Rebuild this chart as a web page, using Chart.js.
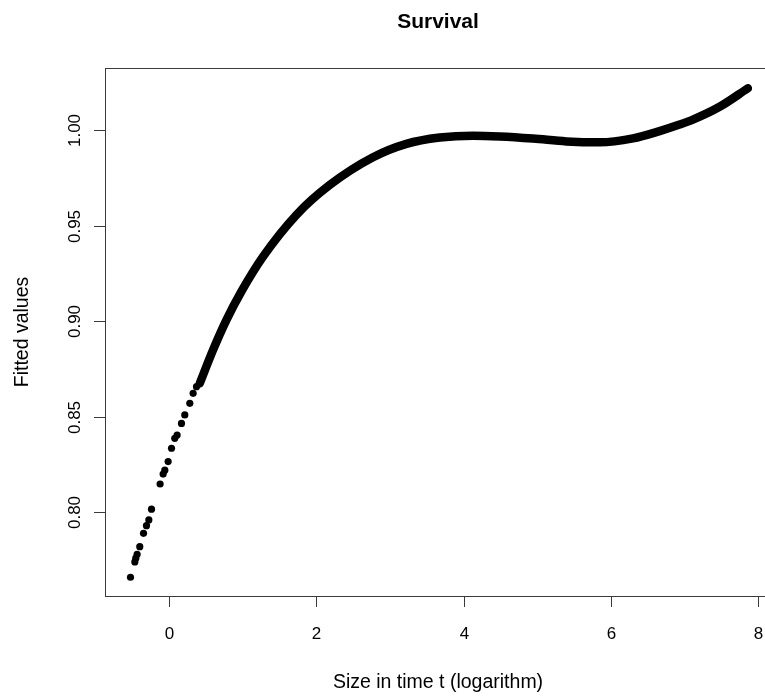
<!DOCTYPE html>
<html lang="en">

<head>
  <meta charset="utf-8">
  <meta name="viewport" content="width=device-width,initial-scale=1.0">
  <script src="https://cdn.jsdelivr.net/npm/chart.js@4/dist/chart.umd.min.js"></script>
  <title>Survival</title>
</head>

<body>
  <div id="wrap">
    <canvas id="surv-chart" width="800" height="696"></canvas>
  </div>
</body>

</html>

<style>
  html, body {
    margin: 0;
    padding: 0;
    background: #fff;
    overflow: hidden;
  }

  #wrap {
    width: 800px;
    height: 696px;
  }
</style>

<script>
// fitted survival vs log size; the lowest sizes show up as separate dots
const sparseX = [-0.524, -0.465, -0.452, -0.434, -0.398, -0.347, -0.307, -0.275, -0.239,
                 -0.122, -0.081, -0.058, -0.013, 0.033, 0.077, 0.109, 0.168, 0.213, 0.281, 0.326, 0.372];
const sparseY = [0.766, 0.774, 0.776, 0.778, 0.782, 0.789, 0.793, 0.796, 0.8016,
                 0.8148, 0.820, 0.822, 0.8265, 0.8335, 0.8387, 0.8404, 0.8465, 0.8509, 0.8570, 0.8622, 0.8657];

// from here on the observations are packed so tightly they form a band
const bandX = [0.417, 0.597, 0.779, 0.982, 1.275, 1.729, 2.181, 2.768, 3.221, 3.673, 4.125,
               4.487, 4.939, 5.392, 5.844, 6.296, 6.658, 6.929, 7.110, 7.472, 7.856];
const bandY = [0.8675, 0.8849, 0.9006, 0.9155, 0.9337, 0.9556, 0.9712, 0.9857, 0.9927, 0.9960, 0.9970,
               0.9966, 0.9955, 0.9940, 0.9935, 0.9956, 0.9994, 1.0028, 1.0054, 1.0121, 1.0218];

const xTicks = [0, 2, 4, 6, 8];
const yTicks = [0.80, 0.85, 0.90, 0.95, 1.00];

const titleText = "Survival";
const xTitle = "Size in time t (logarithm)";
const yTitle = "Fitted values";

const FONT = '"Liberation Sans", Arial, Helvetica, sans-serif';

const toPoints = (xs, ys) => xs.map((x, i) => ({ x: x, y: ys[i] }));

// R style frame: box, outward ticks, rotated y labels
const baseAxes = {
    id: 'baseAxes',
    afterDraw(chart) {
        const ctx = chart.ctx;
        const a = chart.chartArea;
        const xs = chart.scales.x;
        const ys = chart.scales.y;
        ctx.save();
        ctx.strokeStyle = '#3a3a3a';
        ctx.lineWidth = 1;
        ctx.strokeRect(Math.round(a.left) + 0.5, Math.round(a.top) + 0.5,
                       Math.round(a.right - a.left), Math.round(a.bottom - a.top));

        ctx.fillStyle = '#000';
        ctx.font = '17px ' + FONT;
        ctx.textAlign = 'center';
        ctx.textBaseline = 'middle';
        xTicks.forEach(t => {
            const px = Math.round(xs.getPixelForValue(t)) + 0.5;
            ctx.beginPath();
            ctx.moveTo(px, a.bottom);
            ctx.lineTo(px, a.bottom + 11);
            ctx.stroke();
            ctx.fillText(String(t), px, 634);
        });
        yTicks.forEach(t => {
            const py = Math.round(ys.getPixelForValue(t)) + 0.5;
            ctx.beginPath();
            ctx.moveTo(a.left, py);
            ctx.lineTo(a.left - 11, py);
            ctx.stroke();
            ctx.save();
            ctx.translate(75, py);
            ctx.rotate(-Math.PI / 2);
            ctx.fillText(t.toFixed(2), 0, 0);
            ctx.restore();
        });

        ctx.font = '19.5px ' + FONT;
        const cx = (a.left + a.right) / 2;
        ctx.fillText(xTitle, cx, 683);
        ctx.save();
        ctx.translate(23, (a.top + a.bottom) / 2);
        ctx.rotate(-Math.PI / 2);
        ctx.fillText(yTitle, 0, 0);
        ctx.restore();

        ctx.font = 'bold 21px ' + FONT;
        ctx.fillText(titleText, cx, 22);
        ctx.restore();
    }
};

const config = {
    type: 'scatter',
    data: {
        datasets: [
            {
                data: toPoints(bandX, bandY),
                showLine: true,
                cubicInterpolationMode: 'monotone',
                borderColor: '#000',
                borderWidth: 8.5,
                borderCapStyle: 'round',
                borderJoinStyle: 'round',
                pointRadius: 0,
            },
            {
                data: toPoints(sparseX, sparseY),
                backgroundColor: '#000',
                borderColor: '#000',
                pointRadius: 3.6,
                borderWidth: 0,
            },
        ],
    },
    options: {
        responsive: false,
        animation: false,
        layout: {
            padding: { left: 105, top: 68, right: 29, bottom: 100 },
        },
        scales: {
            x: { type: 'linear', min: -0.87, max: 8.17, display: false },
            y: { type: 'linear', min: 0.7562, max: 1.0324, display: false },
        },
        plugins: {
            legend: { display: false },
            tooltip: { enabled: false },
        },
    },
    plugins: [baseAxes],
};

var chart = new Chart(document.getElementById("surv-chart"), config);
</script>
